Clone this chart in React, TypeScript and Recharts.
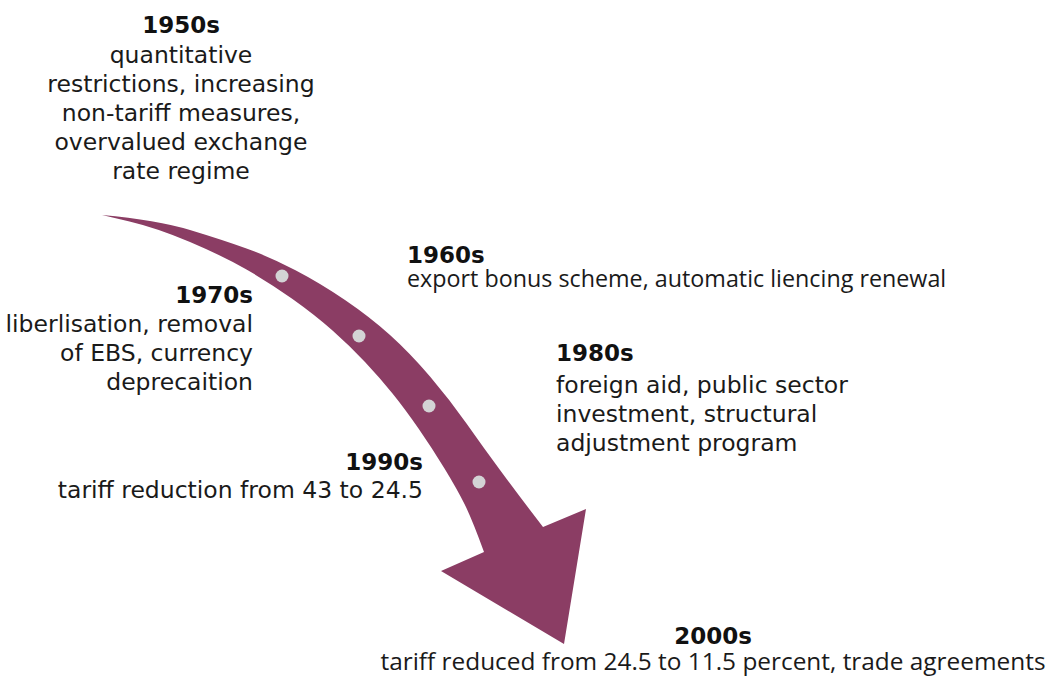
import React from "react";
import { ScatterChart, Scatter, XAxis, YAxis } from "recharts";

// decades and what happened in each
const decades = ["1950s", "1960s", "1970s", "1980s", "1990s", "2000s"];
const descriptions = [
  ["quantitative", "restrictions, increasing", "non-tariff measures,", "overvalued exchange", "rate regime"],
  ["export bonus scheme, automatic liencing renewal"],
  ["liberlisation, removal", "of EBS, currency", "deprecaition"],
  ["foreign aid, public sector", "investment, structural", "adjustment program"],
  ["tariff reduction from 43 to 24.5"],
  ["tariff reduced from 24.5 to 11.5 percent, trade agreements"],
];

// milestone markers along the arrow
const markerX = [282, 359, 429, 479];
const markerY = [276, 336, 406, 482];

// arrow outline: upper edge, head, lower edge back to the tail
const arrowX = [102, 157, 223, 270, 320, 370, 410, 450, 483, 517, 543, 586, 564, 441, 484, 472, 457, 432, 405, 380, 350, 315, 270, 223, 157];
const arrowY = [215, 220, 240, 257, 283, 317, 353, 400, 447, 493, 527, 509, 644, 571, 552, 519, 489, 448, 409, 378, 346, 315, 283, 256, 228];
const arrowCorner = [0, 10, 11, 12, 13, 14];

// label layout (title baseline anchors)
const labelX = [181, 407, 253, 556, 423, 713];
const labelY = [33, 263, 303, 361, 470, 644];
const labelAlign = ["middle", "start", "end", "start", "end", "middle"];
const firstGap = [30, 24, 29, 32, 28, 26];

const ARROW = "#8B3D64";
const DOT = "#D3D3D5";
const MAIN_FONT = "'DejaVu Sans', sans-serif";
const ALT_FONT = "'Open Sans', sans-serif";
const descFont = [MAIN_FONT, ALT_FONT, MAIN_FONT, MAIN_FONT, MAIN_FONT, ALT_FONT];
const descSize = [23.5, 23.3, 23.5, 23.5, 23.5, 24.4];

const arrowData = arrowX.map((x, i) => ({ x, y: arrowY[i] }));
const markerData = markerX.map((x, i) => ({ x, y: markerY[i] }));
const labelData = decades.map((d, i) => ({ x: labelX[i], y: labelY[i], idx: i }));

// smooth the body edges, keep the head and tail sharp
const ArrowShape = (props: any) => {
  const pts = props.points || [];
  if (!pts.length) return <g />;
  const n = pts.length;
  let d = `M${pts[0].x},${pts[0].y}`;
  for (let i = 1; i <= n; i++) {
    const p = pts[i % n];
    if (arrowCorner.includes(i % n)) {
      d += ` L${p.x},${p.y}`;
    } else {
      const q = pts[(i + 1) % n];
      d += ` Q${p.x},${p.y} ${(p.x + q.x) / 2},${(p.y + q.y) / 2}`;
    }
  }
  return <path d={d + " Z"} fill={ARROW} stroke="none" />;
};

const LabelShape = (props: any) => {
  const { cx, cy, payload } = props;
  const i = payload.idx;
  const anchor = labelAlign[i] as any;
  return (
    <g>
      <text x={cx} y={cy} textAnchor={anchor} fontFamily={MAIN_FONT} fontWeight={700} fontSize={23} fill="#111">
        {decades[i]}
      </text>
      {descriptions[i].map((line, j) => (
        <text
          key={j}
          x={cx}
          y={cy + firstGap[i] + j * 29}
          textAnchor={anchor}
          fontFamily={descFont[i]}
          fontSize={descSize[i]}
          fill="#1a1a1a"
        >
          {line}
        </text>
      ))}
    </g>
  );
};

export default function App() {
  return (
    <div style={{ position: "absolute", left: 0, top: 0, width: 1058, height: 677, background: "#fff" }}>
      <ScatterChart width={1058} height={677} margin={{ top: 0, right: 0, bottom: 0, left: 0 }}>
        <XAxis type="number" dataKey="x" domain={[0, 1058]} hide />
        <YAxis type="number" dataKey="y" domain={[0, 677]} reversed hide />
        <Scatter
          data={arrowData}
          isAnimationActive={false}
          shape={() => <g />}
          line={ArrowShape}
          lineType="joint"
        />
        <Scatter
          data={markerData}
          isAnimationActive={false}
          shape={(p: any) => <circle cx={p.cx} cy={p.cy} r={6.5} fill={DOT} />}
        />
        <Scatter data={labelData} isAnimationActive={false} shape={LabelShape} />
      </ScatterChart>
    </div>
  );
}
